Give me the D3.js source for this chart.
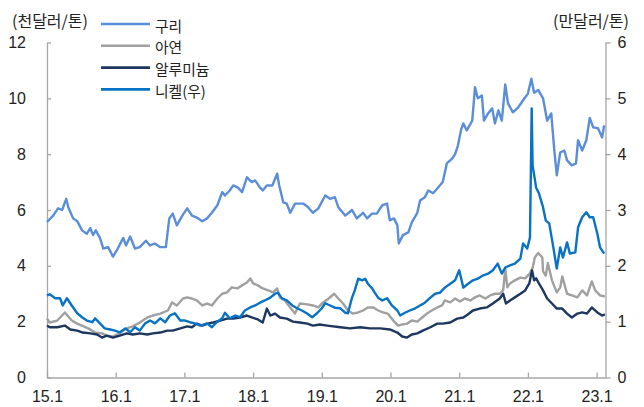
<!DOCTYPE html>
<html><head><meta charset="utf-8">
<script src="https://cdn.jsdelivr.net/npm/d3@7/dist/d3.min.js"></script>
<style>body{margin:0;background:#fff}svg{display:block}</style>
</head><body>
<svg id="chart" width="644" height="407"></svg>
<script>
// ---- data (x = decimal year, y = value) ----
const yearTicks = [2015, 2016, 2017, 2018, 2019, 2020, 2021, 2022, 2023];
const yearLabels = ["15.1", "16.1", "17.1", "18.1", "19.1", "20.1", "21.1", "22.1", "23.1"];
const leftTicks = [0, 2, 4, 6, 8, 10, 12];
const rightTicks = [0, 1, 2, 3, 4, 5, 6];
const seriesNames = ["구리", "아연", "알루미늄", "니켈(우)"];
const leftUnit = "(천달러/톤)";
const rightUnit = "(만달러/톤)";

// 구리 (천달러/톤)
const copper = [[2015.00,5.57],[2015.09,5.80],[2015.16,6.06],[2015.22,6.00],[2015.28,6.40],[2015.31,6.10],[2015.38,5.70],[2015.44,5.60],[2015.51,5.27],[2015.58,5.15],[2015.63,5.35],[2015.67,5.10],[2015.71,5.27],[2015.77,5.00],[2015.82,4.62],[2015.89,4.67],[2015.96,4.33],[2016.03,4.62],[2016.11,5.00],[2016.15,4.73],[2016.21,5.05],[2016.28,4.62],[2016.35,4.67],[2016.44,4.90],[2016.50,4.73],[2016.57,4.80],[2016.65,4.67],[2016.73,4.67],[2016.78,5.70],[2016.83,5.87],[2016.89,5.45],[2016.97,5.80],[2017.04,6.06],[2017.11,5.80],[2017.18,5.73],[2017.26,5.60],[2017.33,5.70],[2017.40,5.90],[2017.48,6.17],[2017.55,6.64],[2017.59,6.52],[2017.66,6.70],[2017.71,6.88],[2017.78,6.80],[2017.84,6.64],[2017.91,7.17],[2017.98,7.00],[2018.03,7.06],[2018.10,6.80],[2018.14,6.70],[2018.20,6.88],[2018.28,6.88],[2018.35,7.30],[2018.38,6.88],[2018.44,6.27],[2018.49,6.23],[2018.54,5.90],[2018.61,6.23],[2018.65,6.23],[2018.73,6.23],[2018.80,6.10],[2018.87,5.90],[2018.95,6.06],[2019.05,6.52],[2019.12,6.40],[2019.19,6.46],[2019.24,6.10],[2019.34,5.80],[2019.44,6.00],[2019.51,5.70],[2019.60,5.90],[2019.66,5.70],[2019.73,5.87],[2019.80,5.87],[2019.88,6.17],[2019.95,6.23],[2019.99,5.63],[2020.05,5.70],[2020.10,5.45],[2020.12,4.80],[2020.18,5.10],[2020.26,5.20],[2020.31,5.56],[2020.39,5.90],[2020.43,6.34],[2020.50,6.46],[2020.55,6.70],[2020.62,6.60],[2020.69,6.80],[2020.76,7.00],[2020.82,7.67],[2020.90,7.85],[2020.94,8.00],[2020.98,8.30],[2021.03,8.90],[2021.06,9.10],[2021.11,8.85],[2021.19,9.20],[2021.23,10.40],[2021.27,10.00],[2021.33,10.10],[2021.36,9.20],[2021.42,9.46],[2021.48,9.64],[2021.52,9.10],[2021.57,9.57],[2021.62,9.20],[2021.67,10.50],[2021.71,9.82],[2021.78,9.50],[2021.86,9.68],[2021.93,9.93],[2022.00,10.17],[2022.05,10.70],[2022.09,10.20],[2022.15,10.30],[2022.22,10.00],[2022.28,9.20],[2022.34,9.46],[2022.38,8.25],[2022.42,7.24],[2022.47,8.06],[2022.53,8.13],[2022.57,7.78],[2022.64,7.60],[2022.70,7.67],[2022.73,8.50],[2022.79,8.13],[2022.85,8.50],[2022.90,9.30],[2022.95,8.96],[2023.02,8.93],[2023.08,8.60],[2023.11,9.03]];

// 아연 (천달러/톤)
const zinc = [[2015.00,2.11],[2015.04,1.97],[2015.15,2.04],[2015.26,2.33],[2015.36,2.04],[2015.44,1.93],[2015.51,1.86],[2015.60,1.76],[2015.70,1.61],[2015.80,1.58],[2015.87,1.50],[2015.96,1.47],[2016.06,1.58],[2016.16,1.76],[2016.25,1.83],[2016.35,1.97],[2016.46,2.15],[2016.54,2.22],[2016.65,2.29],[2016.76,2.40],[2016.82,2.69],[2016.89,2.58],[2016.98,2.83],[2017.04,2.87],[2017.11,2.83],[2017.18,2.76],[2017.26,2.58],[2017.33,2.65],[2017.40,2.58],[2017.48,2.83],[2017.55,3.00],[2017.62,3.05],[2017.69,3.23],[2017.77,3.19],[2017.84,3.30],[2017.91,3.40],[2017.96,3.55],[2018.00,3.37],[2018.07,3.30],[2018.14,3.19],[2018.22,3.12],[2018.29,3.05],[2018.35,3.19],[2018.39,2.87],[2018.46,2.76],[2018.54,2.51],[2018.61,2.29],[2018.68,2.65],[2018.79,2.62],[2018.87,2.58],[2018.95,2.51],[2019.02,2.69],[2019.10,2.83],[2019.18,3.00],[2019.24,2.83],[2019.31,2.65],[2019.38,2.40],[2019.45,2.29],[2019.53,2.33],[2019.60,2.40],[2019.67,2.51],[2019.75,2.51],[2019.82,2.40],[2019.89,2.33],[2019.96,2.29],[2020.04,2.04],[2020.11,1.86],[2020.17,1.90],[2020.24,1.93],[2020.31,2.04],[2020.39,2.00],[2020.46,2.15],[2020.53,2.29],[2020.60,2.40],[2020.68,2.51],[2020.75,2.58],[2020.79,2.76],[2020.87,2.69],[2020.94,2.83],[2021.01,2.72],[2021.08,2.83],[2021.16,2.76],[2021.23,2.87],[2021.30,2.94],[2021.38,2.83],[2021.45,2.94],[2021.52,3.00],[2021.59,3.00],[2021.64,3.12],[2021.67,3.90],[2021.70,3.23],[2021.74,3.37],[2021.81,3.48],[2021.89,3.58],[2021.96,3.55],[2022.03,3.73],[2022.07,3.94],[2022.10,4.30],[2022.15,4.46],[2022.21,4.30],[2022.22,3.80],[2022.26,3.65],[2022.29,4.10],[2022.35,3.48],[2022.42,3.05],[2022.47,3.23],[2022.50,3.62],[2022.57,3.00],[2022.64,2.94],[2022.72,2.87],[2022.79,3.12],[2022.86,2.94],[2022.93,3.44],[2022.98,3.12],[2023.05,2.94],[2023.12,2.90]];

// 알루미늄 (천달러/톤)
const aluminum = [[2015.00,1.86],[2015.04,1.80],[2015.15,1.80],[2015.26,1.86],[2015.34,1.72],[2015.44,1.68],[2015.52,1.61],[2015.63,1.58],[2015.73,1.54],[2015.80,1.43],[2015.87,1.50],[2015.96,1.43],[2016.06,1.50],[2016.16,1.58],[2016.25,1.54],[2016.35,1.58],[2016.46,1.54],[2016.54,1.58],[2016.65,1.61],[2016.75,1.68],[2016.83,1.68],[2016.94,1.76],[2017.04,1.83],[2017.11,1.80],[2017.18,1.93],[2017.26,1.86],[2017.34,1.93],[2017.42,1.97],[2017.52,2.04],[2017.62,2.11],[2017.71,2.11],[2017.81,2.15],[2017.91,2.22],[2017.98,2.15],[2018.07,2.08],[2018.14,1.97],[2018.20,2.47],[2018.25,2.22],[2018.32,2.29],[2018.39,2.15],[2018.49,2.11],[2018.58,2.00],[2018.68,1.97],[2018.79,1.93],[2018.87,1.86],[2018.97,1.90],[2019.08,1.86],[2019.27,1.80],[2019.41,1.76],[2019.56,1.80],[2019.70,1.76],[2019.85,1.76],[2019.99,1.72],[2020.10,1.61],[2020.17,1.47],[2020.24,1.43],[2020.31,1.54],[2020.39,1.58],[2020.47,1.68],[2020.58,1.80],[2020.68,1.93],[2020.76,1.93],[2020.87,1.97],[2020.97,2.11],[2021.06,2.15],[2021.12,2.25],[2021.20,2.40],[2021.30,2.47],[2021.40,2.51],[2021.49,2.65],[2021.59,2.83],[2021.64,3.00],[2021.68,2.65],[2021.74,2.76],[2021.81,2.87],[2021.89,3.00],[2021.96,3.12],[2022.02,3.37],[2022.06,3.84],[2022.09,3.48],[2022.12,3.55],[2022.16,3.37],[2022.22,3.12],[2022.28,2.83],[2022.35,2.65],[2022.42,2.47],[2022.50,2.47],[2022.57,2.29],[2022.64,2.15],[2022.72,2.29],[2022.79,2.33],[2022.86,2.29],[2022.93,2.51],[2023.01,2.33],[2023.08,2.22],[2023.12,2.26]];

// 니켈 (만달러/톤, 우축)
const nickel = [[2015.00,1.47],[2015.04,1.49],[2015.12,1.42],[2015.19,1.42],[2015.23,1.29],[2015.29,1.42],[2015.36,1.29],[2015.44,1.15],[2015.51,1.08],[2015.58,1.02],[2015.66,0.99],[2015.70,1.06],[2015.77,0.97],[2015.84,0.88],[2015.92,0.86],[2015.99,0.84],[2016.06,0.81],[2016.14,0.88],[2016.21,0.81],[2016.28,0.90],[2016.35,0.84],[2016.43,0.97],[2016.50,1.02],[2016.57,0.97],[2016.65,1.06],[2016.72,0.99],[2016.79,1.11],[2016.86,1.15],[2016.94,1.02],[2017.01,1.02],[2017.08,0.99],[2017.15,0.97],[2017.23,0.93],[2017.33,0.97],[2017.40,0.90],[2017.47,0.99],[2017.55,1.06],[2017.59,1.16],[2017.66,1.06],[2017.74,1.11],[2017.81,1.08],[2017.88,1.20],[2017.95,1.25],[2018.03,1.29],[2018.10,1.34],[2018.17,1.38],[2018.25,1.43],[2018.32,1.50],[2018.36,1.52],[2018.42,1.42],[2018.49,1.38],[2018.57,1.29],[2018.64,1.24],[2018.71,1.20],[2018.78,1.15],[2018.86,1.08],[2018.93,1.15],[2019.00,1.24],[2019.05,1.33],[2019.12,1.29],[2019.19,1.25],[2019.27,1.24],[2019.34,1.16],[2019.38,1.15],[2019.44,1.43],[2019.48,1.56],[2019.53,1.77],[2019.59,1.74],[2019.63,1.77],[2019.67,1.68],[2019.73,1.60],[2019.77,1.52],[2019.82,1.43],[2019.88,1.38],[2019.95,1.42],[2020.02,1.29],[2020.10,1.20],[2020.14,1.11],[2020.21,1.16],[2020.28,1.20],[2020.36,1.24],[2020.43,1.29],[2020.50,1.34],[2020.58,1.43],[2020.65,1.50],[2020.72,1.52],[2020.79,1.61],[2020.87,1.68],[2020.94,1.74],[2021.00,1.92],[2021.06,1.61],[2021.13,1.68],[2021.20,1.74],[2021.27,1.77],[2021.35,1.83],[2021.42,1.86],[2021.49,1.92],[2021.56,2.04],[2021.62,1.86],[2021.67,1.97],[2021.74,2.01],[2021.81,2.04],[2021.89,2.13],[2021.93,2.40],[2021.99,2.31],[2022.03,2.51],[2022.055,4.82],[2022.068,3.80],[2022.12,3.40],[2022.16,3.30],[2022.22,3.05],[2022.26,2.81],[2022.31,2.76],[2022.37,2.33],[2022.42,1.95],[2022.47,2.33],[2022.51,2.15],[2022.57,2.42],[2022.61,2.22],[2022.69,2.24],[2022.73,2.69],[2022.79,2.87],[2022.85,2.96],[2022.90,2.87],[2022.95,2.87],[2023.01,2.58],[2023.05,2.33],[2023.11,2.22]];

const colors = ["#5b8ed8", "#a0a0a0", "#1d3760", "#0872c4"];

// ---- drawing ----
const svg = d3.select("#chart");
const x = d3.scaleLinear().domain([2015, 2023.122]).range([47, 605]);
const yL = d3.scaleLinear().domain([0, 12]).range([377.5, 42.5]);
const yR = d3.scaleLinear().domain([0, 6]).range([377.5, 42.5]);
const axisColor = "#a6a6a6";
const numFont = "'Liberation Sans', Arial, sans-serif";
const korFont = "'Noto Sans CJK KR', 'Noto Sans', sans-serif";

function styleAxis(g) {
  g.select(".domain").attr("stroke", axisColor).attr("stroke-width", 1.3);
  g.selectAll(".tick line").attr("stroke", axisColor).attr("stroke-width", 1.3);
  g.selectAll(".tick text").attr("fill", "#222").style("font-family", numFont).style("font-size", "16px");
}

svg.append("g").attr("transform", "translate(47,0)")
  .call(d3.axisLeft(yL).tickValues(leftTicks).tickFormat(d3.format("d")).tickSizeInner(-4).tickSizeOuter(0).tickPadding(21))
  .call(styleAxis);

svg.append("g").attr("transform", "translate(605.5,0)")
  .call(d3.axisRight(yR).tickValues(rightTicks).tickFormat(d3.format("d")).tickSizeInner(5).tickSizeOuter(0).tickPadding(7))
  .call(styleAxis);

svg.append("g").attr("transform", "translate(0,377.5)")
  .call(d3.axisBottom(x).tickValues(yearTicks).tickFormat((d, i) => yearLabels[i]).tickSizeInner(-5).tickSizeOuter(0).tickPadding(13))
  .call(styleAxis);

const lineL = d3.line().x(d => x(d[0])).y(d => yL(d[1]));
const lineR = d3.line().x(d => x(d[0])).y(d => yR(d[1]));
const series = [
  { data: copper, line: lineL },
  { data: zinc, line: lineL },
  { data: aluminum, line: lineL },
  { data: nickel, line: lineR }
];
svg.append("g").selectAll("path").data(series).join("path")
  .attr("d", s => s.line(s.data))
  .attr("fill", "none")
  .attr("stroke", (s, i) => colors[i])
  .attr("stroke-width", 2.4)
  .attr("stroke-linejoin", "round");

// units
svg.append("text").attr("x", 12).attr("y", 20).attr("dominant-baseline", "central")
  .style("font-family", korFont).style("font-size", "16px").attr("fill", "#222").text(leftUnit);
svg.append("text").attr("x", 629).attr("y", 20).attr("dominant-baseline", "central").attr("text-anchor", "end")
  .style("font-family", korFont).style("font-size", "16px").attr("fill", "#222").text(rightUnit);

// legend
const leg = svg.append("g").selectAll("g").data(seriesNames).join("g")
  .attr("transform", (d, i) => `translate(101,${24 + i * 21.8})`);
leg.append("line").attr("x1", 0).attr("x2", 49).attr("y1", 0).attr("y2", 0)
  .attr("stroke", (d, i) => colors[i]).attr("stroke-width", 2.6);
leg.append("text").attr("x", 54).attr("y", 1).attr("dominant-baseline", "central")
  .style("font-family", korFont).style("font-size", "14.8px").attr("fill", "#222").text(d => d);
</script>
</body></html>
